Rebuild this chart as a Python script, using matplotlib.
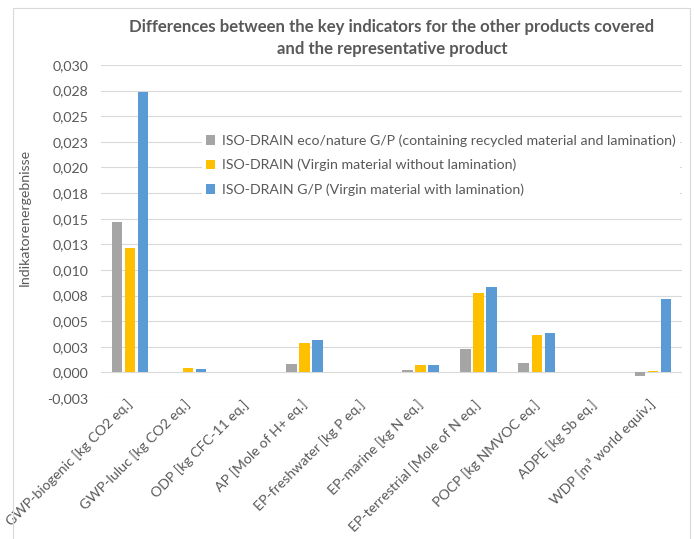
import matplotlib
matplotlib.use("Agg")
import matplotlib.pyplot as plt
import numpy as np
from matplotlib.patches import Rectangle, Patch

plt.rcParams['font.family'] = ['Lato', 'DejaVu Sans']

categories = [
    "GWP-biogenic [kg CO2 eq.]",
    "GWP-luluc [kg CO2 eq.]",
    "ODP [kg CFC-11 eq.]",
    "AP [Mole of H+ eq.]",
    "EP-freshwater [kg P eq.]",
    "EP-marine [kg N eq.]",
    "EP-terrestrial [Mole of N eq.]",
    "POCP [kg NMVOC eq.]",
    "ADPE [kg Sb eq.]",
    "WDP [m³ world equiv.]",
]
series_names = [
    "ISO-DRAIN eco/nature G/P (containing recycled material and lamination)",
    "ISO-DRAIN (Virgin material without lamination)",
    "ISO-DRAIN G/P (Virgin material with lamination)",
]
eco_nature = [0.01470, 0.00003, 0.0, 0.00082, 0.0, 0.00020, 0.00228, 0.00095, 0.0, -0.00032]
virgin_no_lam = [0.01215, 0.00040, 0.0, 0.00290, 0.0, 0.00071, 0.00772, 0.00368, 0.0, 0.00017]
virgin_lam = [0.02736, 0.00030, 0.0, 0.00313, 0.0, 0.00075, 0.00834, 0.00388, 0.0, 0.00713]
y_ticks = [-0.0025, 0.0, 0.0025, 0.005, 0.0075, 0.01, 0.0125, 0.015, 0.0175, 0.02, 0.0225, 0.025, 0.0275, 0.03]
y_tick_labels = ["-0,003", "0,000", "0,003", "0,005", "0,008", "0,010", "0,013",
                 "0,015", "0,018", "0,020", "0,023", "0,025", "0,028", "0,030"]
colors = ["#A5A5A5", "#FFC000", "#5B9BD5"]

W, H = 694, 539
fig = plt.figure(figsize=(W / 100, H / 100), dpi=100)
fig.patches.append(Rectangle((13 / W, -0.01), (690 - 13) / W, 1 - 8 / H + 0.01,
                             transform=fig.transFigure, fill=False,
                             edgecolor="#D9D9D9", linewidth=0.8))

ax = fig.add_axes([101 / W, 1 - 398 / H, (682 - 101) / W, (398 - 65) / H])
x = np.arange(len(categories))
bw = 0.18
offs = [-0.225, 0.0, 0.225]
for vals, off, c in zip([eco_nature, virgin_no_lam, virgin_lam], offs, colors):
    ax.bar(x + off, vals, width=bw, color=c, zorder=3)

ax.set_xlim(-0.5, len(categories) - 0.5)
ax.set_ylim(-0.0025, 0.03)
ax.set_yticks(y_ticks)
ax.set_yticklabels(y_tick_labels, fontsize=10.2, color="#595959")
ax.yaxis.grid(True, color="#D9D9D9", linewidth=0.8, zorder=0)
ax.set_axisbelow(True)
ax.tick_params(axis='y', length=0, pad=9)
ax.tick_params(axis='x', length=0, pad=3)
ax.set_xticks(x)
ax.set_xticklabels(categories, rotation=45, ha='right', va='center',
                   rotation_mode='anchor', fontsize=10.2, color="#595959")
for s in ax.spines.values():
    s.set_visible(False)

fig.text(25 / W, 1 - 217 / H, "Indikatorenergebnisse", rotation=90, ha='center',
         va='center', fontsize=10.2, color="#595959")
fig.text(392 / W, 1 - 38 / H,
         "Differences between the key indicators for the other products covered\nand the representative product",
         ha='center', va='center', fontsize=12.1, fontweight='bold', color="#595959",
         linespacing=1.45)

handles = [Patch(facecolor=c, edgecolor='none') for c in colors]
leg = ax.legend(handles, series_names, loc='upper left',
                bbox_to_anchor=(202 / W, 1 - 130 / H), bbox_transform=fig.transFigure,
                frameon=True, fontsize=10.2, handlelength=0.65, handleheight=0.65,
                handletextpad=0.45, labelspacing=0.85, borderaxespad=0, borderpad=0.3,
                labelcolor="#595959")
leg.get_frame().set_facecolor('white')
leg.get_frame().set_edgecolor('none')
leg.get_frame().set_alpha(1)
leg.set_zorder(5)

fig.savefig("out.png", dpi=100)
